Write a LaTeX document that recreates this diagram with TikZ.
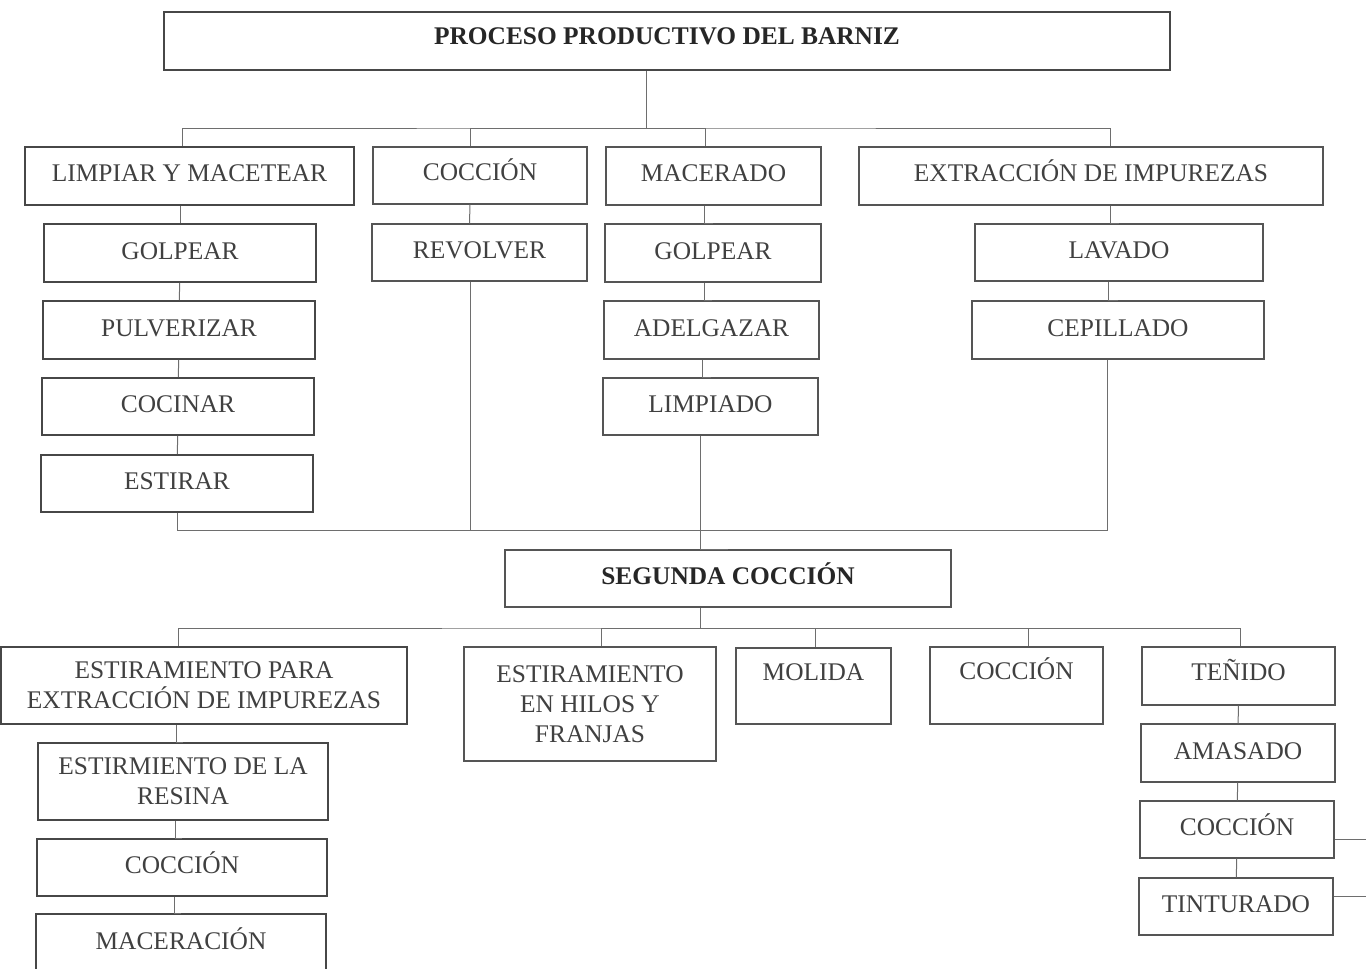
\documentclass[tikz,border=0pt]{standalone}
\usepackage{fontspec}
\setmainfont{Liberation Serif}
\definecolor{tinta}{HTML}{404040}
\definecolor{borde}{HTML}{555555}
\definecolor{linea}{HTML}{6E6E6E}

\begin{document}
\begin{tikzpicture}[x=1pt, y=-1pt,
    base_box/.style={draw=borde, line width=1.1pt, rectangle, inner sep=0pt, align=center, text=tinta, font=\fontsize{25.4}{30}\selectfont, minimum height=58pt},
    main_box/.style={base_box, text height=17pt, text depth=5pt},
    dark_box/.style={line width=1.8pt, draw=black!72},
    title_box/.style={font=\fontsize{25.4}{30}\selectfont\bfseries, text=black!85},
    conn/.style={draw=linea, line width=1pt}]

    \useasboundingbox (0,0) rectangle (1366,969);
    \clip (0,0) rectangle (1366,969);

    % titulo
    \node[main_box, dark_box, title_box, minimum width=1006pt, text depth=10pt] (barniz) at (667,41) {PROCESO PRODUCTIVO DEL BARNIZ};

    % primer nivel
    \node[main_box, dark_box, minimum width=329pt, text depth=7pt] (limpiar) at (189.5,176) {LIMPIAR Y MACETEAR};
    \node[main_box, minimum width=214pt, minimum height=57pt, text depth=7pt] (coccion_1) at (480,175.5) {COCCIÓN};
    \node[main_box, minimum width=215pt, text depth=7pt] (macerado) at (713.5,176) {MACERADO};
    \node[main_box, minimum width=464pt, text depth=7pt] (extraccion) at (1091,176) {EXTRACCIÓN DE IMPUREZAS};

    \node[main_box, dark_box, minimum width=272pt] (golpear_1) at (180,253) {GOLPEAR};
    \node[main_box, dark_box, minimum width=272pt] (pulverizar) at (179,330) {PULVERIZAR};
    \node[main_box, dark_box, minimum width=272pt, minimum height=57pt] (cocinar) at (178,406.5) {COCINAR};
    \node[main_box, dark_box, minimum width=272pt, minimum height=57pt] (estirar) at (177,483.5) {ESTIRAR};

    \node[main_box, minimum width=215pt, minimum height=57pt] (revolver) at (479.5,252.5) {REVOLVER};

    \node[main_box, minimum width=216pt] (golpear_2) at (713,253) {GOLPEAR};
    \node[main_box, minimum width=215pt] (adelgazar) at (711.5,330) {ADELGAZAR};
    \node[main_box, minimum width=215pt, minimum height=57pt] (limpiado) at (710.5,406.5) {LIMPIADO};

    \node[main_box, minimum width=288pt, minimum height=57pt] (lavado) at (1119,252.5) {LAVADO};
    \node[main_box, minimum width=292pt] (cepillado) at (1118,330) {CEPILLADO};

    % segunda coccion
    \node[main_box, title_box, minimum width=446pt, minimum height=57pt] (segunda) at (728,578.5) {SEGUNDA COCCIÓN};

    % segundo nivel
    \node[base_box, dark_box, minimum width=406pt, minimum height=77pt] (estira_1) at (204,685.5) {ESTIRAMIENTO PARA\\EXTRACCIÓN DE IMPUREZAS};
    \node[base_box, minimum width=252pt, minimum height=114pt] (estira_2) at (590,704) {ESTIRAMIENTO\\EN HILOS Y\\FRANJAS};
    \node[main_box, minimum width=155pt, minimum height=76pt, text depth=29pt] (molida) at (813.5,686) {MOLIDA};
    \node[main_box, minimum width=173pt, minimum height=77pt, text depth=29pt] (coccion_3) at (1016.5,685.5) {COCCIÓN};
    \node[main_box, minimum width=193pt, text depth=8pt] (tenido) at (1238.5,676) {TEÑIDO};

    \node[base_box, dark_box, minimum width=290pt, minimum height=77pt] (resina) at (183,781.5) {ESTIRMIENTO DE LA\\RESINA};
    \node[main_box, dark_box, minimum width=290pt, minimum height=57pt] (coccion_4) at (182,867.5) {COCCIÓN};
    \node[main_box, dark_box, minimum width=290pt] (maceracion) at (181,943) {MACERACIÓN};

    \node[main_box, minimum width=194pt] (amasado) at (1238,753) {AMASADO};
    \node[main_box, minimum width=194pt, minimum height=57pt] (coccion_5) at (1237,829.5) {COCCIÓN};
    \node[main_box, minimum width=194pt, minimum height=57pt] (tinturado) at (1236,906.5) {TINTURADO};

    \coordinate (bus_1) at (646,128);
    \coordinate (bus_2) at (700,530);
    \coordinate (bus_3) at (700,628);
    \coordinate (salida_1) at (1366,839);
    \coordinate (salida_2) at (1366,896);

    % conectores
    \draw[conn] (bus_1 |- barniz.south) -- (bus_1);
    \draw[conn] ([xshift=-7.5pt]limpiar.north) |- (bus_1) -| ([xshift=19pt]extraccion.north);
    \draw[conn] ([xshift=-10pt]coccion_1.north) |- (bus_1);
    \draw[conn] ([xshift=-8.5pt]macerado.north) |- (bus_1);

    \draw[conn] (golpear_1.north |- limpiar.south) -- (golpear_1.north);
    \draw[conn] (golpear_1) -- (pulverizar) -- (cocinar) -- (estirar);
    \draw[conn] ([xshift=-10pt]coccion_1.south) -- ([xshift=-10pt]revolver.north);
    \draw[conn] ([xshift=-9pt]macerado.south) |- (golpear_2.north);
    \draw[conn] ([xshift=-9pt]golpear_2.south) |- (adelgazar.north);
    \draw[conn] ([xshift=-9pt]adelgazar.south) |- (limpiado.north);
    \draw[conn] ([xshift=19pt]extraccion.south) |- (lavado.north);
    \draw[conn] ([xshift=-11pt]lavado.south) |- (cepillado.north);

    \draw[conn] (estirar.south) |- (bus_2);
    \draw[conn] ([xshift=-9.5pt]revolver.south) |- (bus_2);
    \draw[conn] ([xshift=-11pt]cepillado.south) |- (bus_2);
    \draw[conn] ([xshift=-10.5pt]limpiado.south) |- (segunda.north);

    \draw[conn] (bus_3 |- segunda.south) -- (bus_3);
    \draw[conn] ([xshift=-26pt]estira_1.north) |- (bus_3) -| ([xshift=1.5pt]tenido.north);
    \draw[conn] ([xshift=11pt]estira_2.north) |- (bus_3);
    \draw[conn] ([xshift=1.5pt]molida.north) |- (bus_3);
    \draw[conn] ([xshift=11.5pt]coccion_3.north) |- (bus_3);

    \draw[conn] ([xshift=-28pt]estira_1.south) |- (resina.north);
    \draw[conn] ([xshift=-8pt]resina.south) |- (coccion_4.north);
    \draw[conn] ([xshift=-8pt]coccion_4.south) |- (maceracion.north);
    \draw[conn] (tenido) -- (amasado) -- (coccion_5) -- (tinturado);
    \draw[conn] (salida_1 -| coccion_5.east) -- (salida_1);
    \draw[conn] (salida_2 -| tinturado.east) -- (salida_2);

\end{tikzpicture}
\end{document}
